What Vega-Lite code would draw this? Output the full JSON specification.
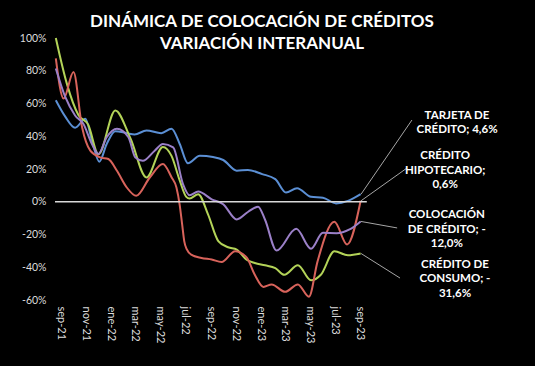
{
  "$schema": "https://vega.github.io/schema/vega-lite/v6.json",
  "width": 480,
  "height": 262,
  "autosize": {"type": "none"},
  "padding": {"left": 55, "top": 38, "right": 0, "bottom": 66},
  "background": "#000000",
  "title": {
    "text": ["DINÁMICA DE COLOCACIÓN DE CRÉDITOS", "VARIACIÓN INTERANUAL"],
    "font": "Lato",
    "fontSize": 17,
    "fontWeight": "bold",
    "color": "#ffffff",
    "lineHeight": 22,
    "anchor": "middle",
    "frame": "group",
    "offset": 0,
    "dx": -33,
    "dy": 20
  },
  "config": {
    "view": {"stroke": null},
    "axis": {"grid": false, "domain": false, "ticks": false, "labelFont": "Lato", "labelColor": "#dcdcdc", "labelFontSize": 10.5}
  },
  "encoding": {
    "x": {
      "field": "fecha", "type": "temporal", "title": null,
      "scale": {"type": "utc", "domain": [{"year": 2021, "month": 8, "date": 19, "utc": true}, {"year": 2024, "month": 11, "date": 1, "utc": true}]},
      "axis": {
        "title": null,
        "labelAngle": 90,
        "labelPadding": 6,
        "labelFontSize": 11,
        "labelOverlap": false,
        "labelFlush": false,
        "values": [
          {"year": 2021, "month": 9, "date": 1, "utc": true},
          {"year": 2021, "month": 11, "date": 1, "utc": true},
          {"year": 2022, "month": 1, "date": 1, "utc": true},
          {"year": 2022, "month": 3, "date": 1, "utc": true},
          {"year": 2022, "month": 5, "date": 1, "utc": true},
          {"year": 2022, "month": 7, "date": 1, "utc": true},
          {"year": 2022, "month": 9, "date": 1, "utc": true},
          {"year": 2022, "month": 11, "date": 1, "utc": true},
          {"year": 2023, "month": 1, "date": 1, "utc": true},
          {"year": 2023, "month": 3, "date": 1, "utc": true},
          {"year": 2023, "month": 5, "date": 1, "utc": true},
          {"year": 2023, "month": 7, "date": 1, "utc": true},
          {"year": 2023, "month": 9, "date": 1, "utc": true}
        ],
        "labelExpr": "['ene','feb','mar','abr','may','jun','jul','ago','sep','oct','nov','dic'][utcmonth(datum.value)] + '-' + utcFormat(datum.value, '%y')"
      }
    },
    "y": {
      "field": "valor", "type": "quantitative", "title": null,
      "scale": {"domain": [-60, 100], "nice": false},
      "axis": {"title": null, "values": [-60, -40, -20, 0, 20, 40, 60, 80, 100], "labelPadding": 9, "labelOverlap": false, "labelFlush": false, "labelExpr": "datum.value + '%'"}
    }
  },
  "layer": [
    {
      "data": {"values": [
        {"serie": "Tarjeta de crédito", "fecha": "2021-08-21", "valor": 62},
        {"serie": "Tarjeta de crédito", "fecha": "2021-09-13", "valor": 52},
        {"serie": "Tarjeta de crédito", "fecha": "2021-10-07", "valor": 45.2},
        {"serie": "Tarjeta de crédito", "fecha": "2021-11-01", "valor": 50.7},
        {"serie": "Tarjeta de crédito", "fecha": "2021-11-17", "valor": 37.4},
        {"serie": "Tarjeta de crédito", "fecha": "2021-12-05", "valor": 24.5},
        {"serie": "Tarjeta de crédito", "fecha": "2021-12-23", "valor": 35.3},
        {"serie": "Tarjeta de crédito", "fecha": "2022-01-13", "valor": 43.1},
        {"serie": "Tarjeta de crédito", "fecha": "2022-02-10", "valor": 41.9},
        {"serie": "Tarjeta de crédito", "fecha": "2022-03-01", "valor": 41.1},
        {"serie": "Tarjeta de crédito", "fecha": "2022-03-30", "valor": 43.5},
        {"serie": "Tarjeta de crédito", "fecha": "2022-05-05", "valor": 41.9},
        {"serie": "Tarjeta de crédito", "fecha": "2022-05-30", "valor": 44.6},
        {"serie": "Tarjeta de crédito", "fecha": "2022-06-19", "valor": 35.3},
        {"serie": "Tarjeta de crédito", "fecha": "2022-07-09", "valor": 23.5},
        {"serie": "Tarjeta de crédito", "fecha": "2022-08-07", "valor": 28.1},
        {"serie": "Tarjeta de crédito", "fecha": "2022-09-08", "valor": 27.3},
        {"serie": "Tarjeta de crédito", "fecha": "2022-10-03", "valor": 25.5},
        {"serie": "Tarjeta de crédito", "fecha": "2022-11-05", "valor": 19},
        {"serie": "Tarjeta de crédito", "fecha": "2022-12-02", "valor": 19.4},
        {"serie": "Tarjeta de crédito", "fecha": "2023-01-06", "valor": 16.9},
        {"serie": "Tarjeta de crédito", "fecha": "2023-02-07", "valor": 13.8},
        {"serie": "Tarjeta de crédito", "fecha": "2023-03-05", "valor": 5.6},
        {"serie": "Tarjeta de crédito", "fecha": "2023-04-01", "valor": 8.3},
        {"serie": "Tarjeta de crédito", "fecha": "2023-05-05", "valor": 3},
        {"serie": "Tarjeta de crédito", "fecha": "2023-06-03", "valor": 2.5},
        {"serie": "Tarjeta de crédito", "fecha": "2023-07-05", "valor": -1},
        {"serie": "Tarjeta de crédito", "fecha": "2023-08-03", "valor": 0.5},
        {"serie": "Tarjeta de crédito", "fecha": "2023-09-03", "valor": 4.6},

        {"serie": "Crédito de consumo", "fecha": "2021-08-21", "valor": 100},
        {"serie": "Crédito de consumo", "fecha": "2021-09-17", "valor": 72},
        {"serie": "Crédito de consumo", "fecha": "2021-10-15", "valor": 53},
        {"serie": "Crédito de consumo", "fecha": "2021-11-08", "valor": 47},
        {"serie": "Crédito de consumo", "fecha": "2021-12-03", "valor": 29},
        {"serie": "Crédito de consumo", "fecha": "2022-01-13", "valor": 55.8},
        {"serie": "Crédito de consumo", "fecha": "2022-02-19", "valor": 38.6},
        {"serie": "Crédito de consumo", "fecha": "2022-03-30", "valor": 14.8},
        {"serie": "Crédito de consumo", "fecha": "2022-05-09", "valor": 33.5},
        {"serie": "Crédito de consumo", "fecha": "2022-05-30", "valor": 28},
        {"serie": "Crédito de consumo", "fecha": "2022-06-19", "valor": 13},
        {"serie": "Crédito de consumo", "fecha": "2022-07-05", "valor": 3},
        {"serie": "Crédito de consumo", "fecha": "2022-07-13", "valor": 2},
        {"serie": "Crédito de consumo", "fecha": "2022-08-03", "valor": 4.6},
        {"serie": "Crédito de consumo", "fecha": "2022-08-27", "valor": -7.7},
        {"serie": "Crédito de consumo", "fecha": "2022-09-21", "valor": -24},
        {"serie": "Crédito de consumo", "fecha": "2022-10-15", "valor": -27.8},
        {"serie": "Crédito de consumo", "fecha": "2022-11-05", "valor": -29.2},
        {"serie": "Crédito de consumo", "fecha": "2022-11-29", "valor": -35.4},
        {"serie": "Crédito de consumo", "fecha": "2022-12-19", "valor": -37.4},
        {"serie": "Crédito de consumo", "fecha": "2023-01-13", "valor": -38.8},
        {"serie": "Crédito de consumo", "fecha": "2023-02-07", "valor": -40.5},
        {"serie": "Crédito de consumo", "fecha": "2023-03-01", "valor": -44.6},
        {"serie": "Crédito de consumo", "fecha": "2023-04-03", "valor": -38.8},
        {"serie": "Crédito de consumo", "fecha": "2023-05-05", "valor": -48},
        {"serie": "Crédito de consumo", "fecha": "2023-05-29", "valor": -44.6},
        {"serie": "Crédito de consumo", "fecha": "2023-07-01", "valor": -30.2},
        {"serie": "Crédito de consumo", "fecha": "2023-08-03", "valor": -32.7},
        {"serie": "Crédito de consumo", "fecha": "2023-09-03", "valor": -31.6},

        {"serie": "Crédito hipotecario", "fecha": "2021-08-21", "valor": 87.6},
        {"serie": "Crédito hipotecario", "fecha": "2021-09-09", "valor": 63},
        {"serie": "Crédito hipotecario", "fecha": "2021-10-03", "valor": 79.3},
        {"serie": "Crédito hipotecario", "fecha": "2021-10-24", "valor": 45.5},
        {"serie": "Crédito hipotecario", "fecha": "2021-11-13", "valor": 31.2},
        {"serie": "Crédito hipotecario", "fecha": "2021-12-07", "valor": 27.1},
        {"serie": "Crédito hipotecario", "fecha": "2021-12-27", "valor": 26.1},
        {"serie": "Crédito hipotecario", "fecha": "2022-01-17", "valor": 18.9},
        {"serie": "Crédito hipotecario", "fecha": "2022-02-10", "valor": 8.7},
        {"serie": "Crédito hipotecario", "fecha": "2022-03-05", "valor": 3.6},
        {"serie": "Crédito hipotecario", "fecha": "2022-04-07", "valor": 14.8},
        {"serie": "Crédito hipotecario", "fecha": "2022-05-09", "valor": 23},
        {"serie": "Crédito hipotecario", "fecha": "2022-05-30", "valor": 15},
        {"serie": "Crédito hipotecario", "fecha": "2022-06-11", "valor": 8.7},
        {"serie": "Crédito hipotecario", "fecha": "2022-06-19", "valor": -2},
        {"serie": "Crédito hipotecario", "fecha": "2022-06-25", "valor": -14},
        {"serie": "Crédito hipotecario", "fecha": "2022-06-30", "valor": -24},
        {"serie": "Crédito hipotecario", "fecha": "2022-07-06", "valor": -29},
        {"serie": "Crédito hipotecario", "fecha": "2022-07-17", "valor": -32.3},
        {"serie": "Crédito hipotecario", "fecha": "2022-08-11", "valor": -34.3},
        {"serie": "Crédito hipotecario", "fecha": "2022-09-05", "valor": -35.3},
        {"serie": "Crédito hipotecario", "fecha": "2022-09-29", "valor": -36.8},
        {"serie": "Crédito hipotecario", "fecha": "2022-11-01", "valor": -30.2},
        {"serie": "Crédito hipotecario", "fecha": "2022-11-29", "valor": -34},
        {"serie": "Crédito hipotecario", "fecha": "2022-12-19", "valor": -44.6},
        {"serie": "Crédito hipotecario", "fecha": "2023-01-09", "valor": -52},
        {"serie": "Crédito hipotecario", "fecha": "2023-01-29", "valor": -50.5},
        {"serie": "Crédito hipotecario", "fecha": "2023-03-03", "valor": -55},
        {"serie": "Crédito hipotecario", "fecha": "2023-04-03", "valor": -50.5},
        {"serie": "Crédito hipotecario", "fecha": "2023-04-30", "valor": -58},
        {"serie": "Crédito hipotecario", "fecha": "2023-05-21", "valor": -36.4},
        {"serie": "Crédito hipotecario", "fecha": "2023-07-01", "valor": -12.2},
        {"serie": "Crédito hipotecario", "fecha": "2023-08-01", "valor": -26.1},
        {"serie": "Crédito hipotecario", "fecha": "2023-09-03", "valor": 0.6},

        {"serie": "Colocación de crédito", "fecha": "2021-08-21", "valor": 81.4},
        {"serie": "Colocación de crédito", "fecha": "2021-09-13", "valor": 64},
        {"serie": "Colocación de crédito", "fecha": "2021-10-07", "valor": 52.7},
        {"serie": "Colocación de crédito", "fecha": "2021-10-27", "valor": 47.6},
        {"serie": "Colocación de crédito", "fecha": "2021-11-17", "valor": 35.3},
        {"serie": "Colocación de crédito", "fecha": "2021-12-03", "valor": 29.2},
        {"serie": "Colocación de crédito", "fecha": "2021-12-23", "valor": 39.4},
        {"serie": "Colocación de crédito", "fecha": "2022-01-17", "valor": 44.6},
        {"serie": "Colocación de crédito", "fecha": "2022-02-14", "valor": 39.4},
        {"serie": "Colocación de crédito", "fecha": "2022-03-03", "valor": 27},
        {"serie": "Colocación de crédito", "fecha": "2022-03-21", "valor": 25},
        {"serie": "Colocación de crédito", "fecha": "2022-04-19", "valor": 31.2},
        {"serie": "Colocación de crédito", "fecha": "2022-05-09", "valor": 35.3},
        {"serie": "Colocación de crédito", "fecha": "2022-06-03", "valor": 33.2},
        {"serie": "Colocación de crédito", "fecha": "2022-06-27", "valor": 10.8},
        {"serie": "Colocación de crédito", "fecha": "2022-07-13", "valor": 4},
        {"serie": "Colocación de crédito", "fecha": "2022-08-03", "valor": 6.2},
        {"serie": "Colocación de crédito", "fecha": "2022-09-05", "valor": 1.5},
        {"serie": "Colocación de crédito", "fecha": "2022-10-03", "valor": -1.5},
        {"serie": "Colocación de crédito", "fecha": "2022-11-05", "valor": -10.8},
        {"serie": "Colocación de crédito", "fecha": "2022-12-03", "valor": -6.1},
        {"serie": "Colocación de crédito", "fecha": "2022-12-27", "valor": -3},
        {"serie": "Colocación de crédito", "fecha": "2023-01-13", "valor": -11},
        {"serie": "Colocación de crédito", "fecha": "2023-02-10", "valor": -29.8},
        {"serie": "Colocación de crédito", "fecha": "2023-03-30", "valor": -16.5},
        {"serie": "Colocación de crédito", "fecha": "2023-05-05", "valor": -28.7},
        {"serie": "Colocación de crédito", "fecha": "2023-06-03", "valor": -19},
        {"serie": "Colocación de crédito", "fecha": "2023-07-06", "valor": -19.2},
        {"serie": "Colocación de crédito", "fecha": "2023-08-07", "valor": -16.9},
        {"serie": "Colocación de crédito", "fecha": "2023-09-03", "valor": -12}
      ]},
      "mark": {"type": "line", "interpolate": "monotone", "strokeWidth": 2},
      "encoding": {
        "color": {
          "field": "serie", "type": "nominal", "legend": null,
          "scale": {
            "domain": ["Tarjeta de crédito", "Crédito hipotecario", "Colocación de crédito", "Crédito de consumo"],
            "range": ["#5b8fd4", "#d8635b", "#9b80c8", "#b3d358"]
          }
        }
      }
    },
    {
      "data": {"values": [{"fecha": "2021-08-19", "fechaFin": "2023-09-18", "valor": 0}]},
      "mark": {"type": "rule", "color": "#d9d9d9", "strokeWidth": 1.5},
      "encoding": {
        "x2": {"field": "fechaFin"}
      }
    },
    {
      "data": {"values": [
        {"serie": "Tarjeta de crédito", "fecha": "2023-09-04", "valor": 4.6, "fechaFin": "2024-01-06", "valorFin": 49.9},
        {"serie": "Crédito hipotecario", "fecha": "2023-09-04", "valor": 0.6, "fechaFin": "2023-12-25", "valorFin": 20.6},
        {"serie": "Colocación de crédito", "fecha": "2023-09-03", "valor": -12, "fechaFin": "2023-12-01", "valorFin": -16},
        {"serie": "Crédito de consumo", "fecha": "2023-09-04", "valor": -31.6, "fechaFin": "2023-12-08", "valorFin": -46.6}
      ]},
      "mark": {"type": "rule", "color": "#a6a6a6", "strokeWidth": 1},
      "encoding": {
        "x2": {"field": "fechaFin"},
        "y2": {"field": "valorFin"}
      }
    },
    {
      "data": {"values": [
        {"etiqueta": "TARJETA DE\nCRÉDITO; 4,6%", "fecha": "2024-04-25", "valor": 52.4},
        {"etiqueta": "CRÉDITO\nHIPOTECARIO;\n0,6%", "fecha": "2024-03-27", "valor": 27.9},
        {"etiqueta": "COLOCACIÓN\nDE CRÉDITO; -\n12,0%", "fecha": "2024-03-31", "valor": -8.1},
        {"etiqueta": "CRÉDITO DE\nCONSUMO; -\n31,6%", "fecha": "2024-04-20", "valor": -38.6}
      ]},
      "mark": {"type": "text", "font": "Lato", "fontSize": 11.5, "fontWeight": "bold", "color": "#ffffff", "lineBreak": "\n", "lineHeight": 14.5, "align": "center", "baseline": "middle"},
      "encoding": {
        "text": {"field": "etiqueta", "type": "nominal"}
      }
    }
  ]
}
